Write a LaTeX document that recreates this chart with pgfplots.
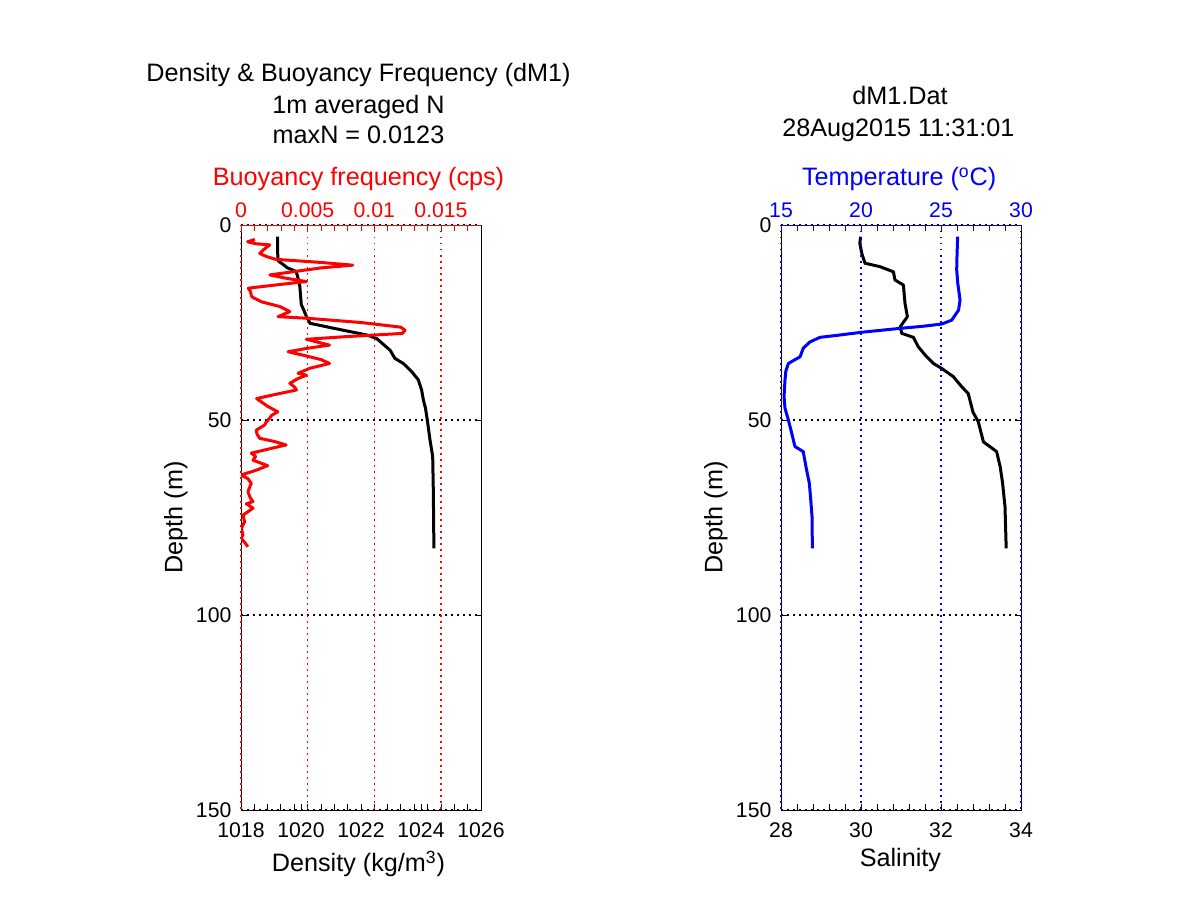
\documentclass[border=0pt]{standalone}
\usepackage{fontspec}
\setmainfont{Liberation Sans}
\usepackage{pgfplots}
\pgfplotsset{compat=1.18}

\newcommand{\lblfont}{\fontsize{12.6bp}{15.5bp}\selectfont}
\pgfplotsset{
  panel/.style={at={#1}, anchor=south west, scale only axis,
    width=120bp, height=292.5bp,
    ymin=0, ymax=150, y dir=reverse, tick align=inside,
    major tick length=3bp, minor tick length=3bp,
    /pgf/number format/assume math mode=true,
    tick label style={font=\fontsize{10.6bp}{12bp}\selectfont},
    scaled x ticks=false, scaled y ticks=false},
  % black axis: x at bottom, depth on the left
  baseaxis/.style={panel={#1},
    axis line style={black, line width=0.5bp},
    every tick/.style={black, line width=0.5bp},
    xtick pos=left, ytick pos=both, yticklabel pos=left,
    ytick={0,50,100,150}, yticklabels={0,50,100,150},
    ymajorgrids,
    major grid style={black, line width=0.75bp, dash pattern=on 0.75bp off 2.25bp},
    xticklabel style={anchor=base, yshift=-13.6bp},
    yticklabel style={anchor=east, xshift=-1.3bp}},
  % coloured axis on top
  topaxis/.style 2 args={panel={#1},
    hide y axis, axis x line*=top,
    x axis line style={#2, line width=0.5bp, -},
    every tick/.style={#2, line width=0.5bp},
    xmajorgrids,
    major grid style={#2, line width=0.75bp, dash pattern=on 0.75bp off 2.25bp},
    xticklabel style={#2, anchor=base, yshift=3.5bp}},
}

\begin{document}
\begin{tikzpicture}
\useasboundingbox (0,0) rectangle (600.5bp,450.5bp);

% ---------------- left panel: density ----------------
\begin{axis}[baseaxis={(120.5bp,45.5bp)},
  xmin=1018, xmax=1026,
  xtick={1018,1020,1022,1024,1026},
  xticklabels={1018,1020,1022,1024,1026},
  minor xtick={1018.444,1018.889,1019.333,1019.778,1020.222,1020.667,1021.111,1021.556,1022.444,1022.889,1023.333,1023.778,1024.222,1024.667,1025.111,1025.556}]
\addplot[black, line width=1.5bp, line join=round] coordinates {
(1019.22,3.0) (1019.22,6.0) (1019.23,9.1) (1019.55,11.0) (1019.84,11.9)
(1019.90,13.6) (1019.96,15.7) (1020.01,20.4) (1020.18,23.4) (1020.30,25.2)
(1021.10,26.5) (1022.19,28.2) (1022.52,29.1) (1022.97,32.1) (1023.13,34.2)
(1023.41,35.5) (1023.69,37.6) (1023.91,39.7) (1024.02,42.3) (1024.08,44.9)
(1024.15,47.0) (1024.21,50.0) (1024.30,55.1) (1024.39,59.4) (1024.41,67.9)
(1024.42,75.0) (1024.43,82.9)
};
\end{axis}

% buoyancy frequency on top
\begin{axis}[topaxis={(120.5bp,45.5bp)}{red},
  xmin=0, xmax=0.018,
  xtick={0,0.005,0.01,0.015},
  xticklabels={0,0.005,0.01,0.015},
  minor xtick={0.001,0.002,0.003,0.004,0.006,0.007,0.008,0.009,0.011,0.012,0.013,0.014,0.016,0.017}]
\addplot[red, line width=1.5bp, line join=round] coordinates {
(0.00104,3.7) (0.00050,4.3) (0.00110,4.8) (0.00216,5.1) (0.00170,6.3)
(0.00140,7.3) (0.00192,8.1) (0.00260,8.8) (0.00600,9.6) (0.00838,10.3)
(0.00600,11.0) (0.00216,12.8) (0.00330,13.6) (0.00490,14.5) (0.00280,15.3)
(0.00055,16.2) (0.00070,17.0) (0.00080,18.4) (0.00154,19.7) (0.00291,20.9)
(0.00366,22.2) (0.00278,23.5) (0.00490,23.9) (0.00900,25.0) (0.01199,26.2)
(0.01230,27.0) (0.01211,27.8) (0.00800,28.6) (0.00490,29.3) (0.00664,30.8)
(0.00500,31.6) (0.00353,32.5) (0.00480,33.5) (0.00600,34.5) (0.00664,35.5)
(0.00520,36.7) (0.00428,38.0) (0.00490,38.5) (0.00420,39.5) (0.00366,40.6)
(0.00400,41.5) (0.00416,42.3) (0.00250,43.5) (0.00117,44.5) (0.00200,46.5)
(0.00276,47.9) (0.00230,48.8) (0.00214,49.6) (0.00190,50.5) (0.00177,51.3)
(0.00114,52.6) (0.00120,53.6) (0.00140,54.7) (0.00250,55.5) (0.00338,56.4)
(0.00200,57.5) (0.00077,58.5) (0.00110,59.3) (0.00090,60.3) (0.00200,61.7)
(0.00120,62.8) (0.00002,64.1) (0.00050,65.0) (0.00077,66.2) (0.00052,68.4)
(0.00070,70.0) (0.00090,70.9) (0.00040,71.5) (0.00090,72.6) (0.00015,74.4)
(0.00027,76.1) (0.00003,77.8) (0.00015,79.5) (0.00000,80.3) (0.00030,81.5)
(0.00052,82.5)
};
\end{axis}

% ---------------- right panel: salinity ----------------
\begin{axis}[baseaxis={(390.5bp,45.5bp)},
  xmin=28, xmax=34,
  xtick={28,30,32,34},
  xticklabels={28,30,32,34},
  minor xtick={28.4,28.8,29.2,29.6,30.4,30.8,31.2,31.6,32.4,32.8,33.2,33.6}]
\addplot[black, line width=1.5bp, line join=round] coordinates {
(29.99,3.0) (29.97,4.7) (30.02,7.3) (30.10,9.8) (30.48,10.7)
(30.81,12.0) (30.85,14.1) (31.06,15.4) (31.10,20.1) (31.16,23.5)
(30.98,26.1) (31.02,27.8) (31.31,28.8) (31.43,31.2) (31.60,33.3)
(31.81,35.5) (32.02,36.8) (32.31,38.9) (32.52,41.5) (32.68,43.2)
(32.75,46.0) (32.80,48.0) (32.93,50.4) (33.06,55.6) (33.39,58.1)
(33.48,62.0) (33.54,66.2) (33.60,72.2) (33.63,82.9)
};
\end{axis}

% temperature on top
\begin{axis}[topaxis={(390.5bp,45.5bp)}{blue},
  xmin=15, xmax=30,
  xtick={15,20,25,30},
  xticklabels={15,20,25,30},
  minor xtick={16,17,18,19,21,22,23,24,26,27,28,29}]
\addplot[blue, line width=1.5bp, line join=round] coordinates {
(26.04,3.0) (26.00,8.0) (25.98,11.5) (26.05,15.0) (26.19,19.2)
(26.10,21.8) (25.67,24.4) (25.04,25.4) (23.80,26.0) (22.44,26.5)
(20.04,27.5) (18.50,28.3) (17.44,28.8) (16.80,30.0) (16.39,31.6)
(16.19,33.8) (15.46,35.5) (15.30,37.5) (15.25,39.7) (15.19,44.0)
(15.25,47.0) (15.46,50.0) (15.67,53.4) (15.87,56.8) (16.39,58.1)
(16.56,62.0) (16.77,66.2) (16.86,70.5) (16.94,74.8) (16.96,82.9)
};
\end{axis}

% ---------------- titles and labels ----------------
\begin{scope}[every node/.style={font=\lblfont, inner sep=0pt}]
\node[anchor=base] at (179.25bp,409.65bp) {Density \& Buoyancy Frequency (dM1)};
\node[anchor=base] at (179.25bp,393.85bp) {1m averaged N};
\node[anchor=base] at (179.25bp,378.85bp) {maxN = 0.0123};
\node[anchor=base, text=red] at (179.25bp,357.5bp) {Buoyancy frequency (cps)};
\node[anchor=base] at (179.25bp,14.65bp) {Density (kg/m\textsuperscript{3})};
\node[anchor=base, rotate=90] at (91.2bp,191.75bp) {Depth (m)};

\node[anchor=base] at (450bp,398bp) {dM1.Dat};
\node[anchor=base] at (449.2bp,382.15bp) {28Aug2015 11:31:01};
\node[anchor=base, text=blue] at (449.6bp,357.5bp) {Temperature (\textsuperscript{o}C)};
\node[anchor=base] at (450.2bp,17.15bp) {Salinity};
\node[anchor=base, rotate=90] at (361.2bp,191.75bp) {Depth (m)};
\end{scope}
\end{tikzpicture}
\end{document}
